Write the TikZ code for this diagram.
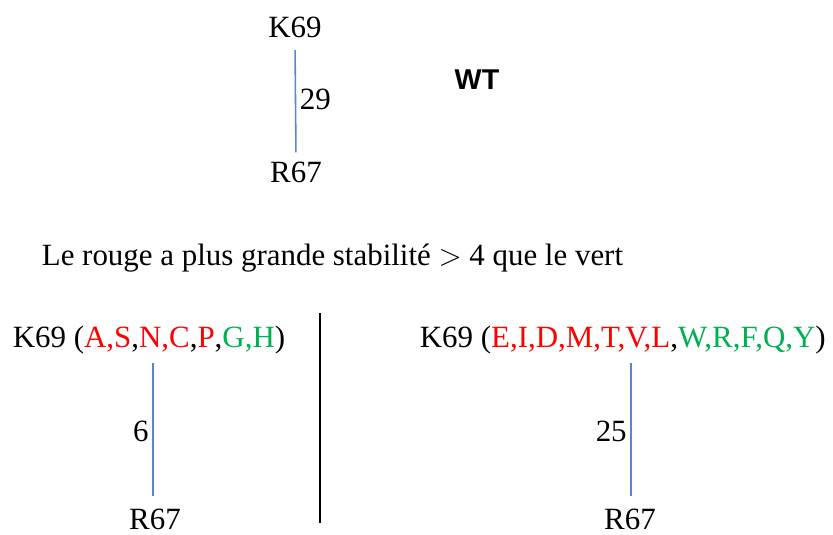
\documentclass[tikz,border=0pt]{standalone}
\usepackage{fontspec}
\setmainfont{Liberation Serif}
\newfontfamily\arialfont{Liberation Sans}
\usetikzlibrary{positioning,calc}
\definecolor{resred}{HTML}{FF0000}
\definecolor{resgreen}{HTML}{00B050}
\definecolor{bondblue}{HTML}{5B86CC}

\begin{document}
\begin{tikzpicture}[x=0.02cm,y={(0,-0.02cm)},
      lbl/.style={inner sep=2pt,text=black,font=\fontsize{17.6}{21}\selectfont},
      bond/.style={bondblue,line width=0.9pt,shorten <=5pt,shorten >=3pt}]
    \useasboundingbox (0,0) rectangle (833,535);
    % WT
    \node[lbl] (k69w) at (295,27) {K69};
    \node[lbl] (r67w) at (296,172) {R67};
    \draw[bond] (k69w.south) -- (r67w.north) node[midway,right,lbl] {29};
    \node[lbl,font=\arialfont\bfseries\fontsize{16.3}{19}\selectfont] (wt) at (477,80) {WT};
    \node[lbl,anchor=west] (note) at (38,258) {Le rouge a plus grande stabilité $>$ 4 que le vert};
    % left mutant
    \node[lbl,anchor=west] (k69l) at (9,340) {K69 (\textcolor{resred}{A,S},\textcolor{resred}{N,C},\textcolor{resred}{P},\textcolor{resgreen}{G,H})};
    \node[lbl] (r67l) at (155,519) {R67};
    \draw[bond] (r67l.north -| 153,0) -- (k69l.south -| 153,0) node[midway,left,lbl] {6};
    % separator
    \coordinate (septop) at (320,313);
    \coordinate (sepbot) at (320,523);
    \draw[line width=1.6pt] (septop) -- (sepbot);
    % right mutant
    \node[lbl,anchor=west] (k69r) at (416,340) {K69 (\textcolor{resred}{E,I,D,M,T,V,L},\textcolor{resgreen}{W,R,F,Q,Y})};
    \node[lbl] (r67r) at (630,519) {R67};
    \draw[bond] (r67r.north -| 631,0) -- (k69r.south -| 631,0) node[midway,left,lbl] {25};
  \end{tikzpicture}
\end{document}
